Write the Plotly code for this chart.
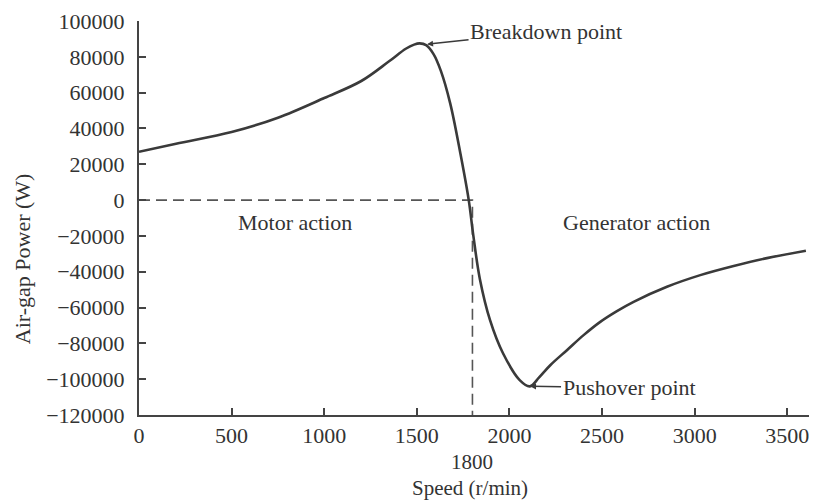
"""
Air-gap power versus speed of an induction machine (motor / generator regions).
"""

import plotly.graph_objects as go

# ─── Data ─────────────────────────────────────────────────────────────────────
speed = [0, 200, 500, 750, 1000, 1200, 1350, 1440, 1485, 1515, 1550, 1590,
         1630, 1680, 1735, 1780, 1805, 1840, 1895, 1965, 2055, 2110, 2160,
         2220, 2310, 2400, 2490, 2580, 2670, 2850, 3030, 3210, 3390, 3600]
power = [27000, 31500, 38000, 46000, 57000, 66500, 77500, 84500, 86800, 87500,
         86500, 81500, 72000, 54000, 26000, 0, -20000, -44000, -67000, -85500,
         -100500, -104000, -99000, -92200, -83800, -75400, -68000, -62000,
         -56800, -48400, -41900, -36800, -32400, -28300]

sync_x = [0, 1800, 1800]
sync_y = [0, 0, -120000]

x_ticks = [0, 500, 1000, 1500, 2000, 2500, 3000, 3500]
y_ticks = [100000, 80000, 60000, 40000, 20000, 0, -20000, -40000, -60000,
           -80000, -100000, -120000]

breakdown = (1555, 87000)
pushover = (2111, -104000)

# ─── Style ────────────────────────────────────────────────────────────────────
FONT = 'Liberation Serif'
INK = '#3a3a3a'
TEXT = '#333333'

fig = go.Figure()

fig.add_trace(go.Scatter(
    x=sync_x, y=sync_y,
    mode='lines',
    line=dict(color='#555555', width=1.6, dash='11px,6px'),
    hoverinfo='skip',
))

fig.add_trace(go.Scatter(
    x=speed, y=power,
    mode='lines',
    line=dict(color=INK, width=2.6, shape='spline', smoothing=1.0),
))

axis_common = dict(
    showgrid=False,
    zeroline=False,
    showline=True,
    linecolor='#444444',
    linewidth=2,
    ticks='inside',
    ticklen=7,
    tickwidth=1.6,
    tickcolor='#444444',
    tickfont=dict(family=FONT, size=22, color=TEXT),
    tickformat='d',
    automargin=False,
)

fig.update_xaxes(range=[0, 3660], tickvals=x_ticks, **axis_common)
fig.update_yaxes(range=[-120000, 100000], tickvals=y_ticks,
                 ticklabelstandoff=8, **axis_common)

annotations = [
    dict(x=breakdown[0], y=breakdown[1], text='Breakdown point',
         showarrow=True, ax=119, ay=-13, arrowhead=2, arrowsize=0.8,
         arrowwidth=1.5, arrowcolor=INK),
    dict(x=pushover[0], y=pushover[1], text='Pushover point',
         showarrow=True, ax=99, ay=1, arrowhead=2, arrowsize=0.8,
         arrowwidth=1.5, arrowcolor=INK),
    dict(x=842, y=-12300, text='Motor action', showarrow=False),
    dict(x=2683, y=-12300, text='Generator action', showarrow=False),
]
for a in annotations:
    a['font'] = dict(family=FONT, size=22, color=TEXT)

# texts under the x axis sit close together, so slightly smaller and unpadded
annotations += [
    dict(x=1800, y=-0.119, yref='paper', yanchor='middle', text='1800',
         showarrow=False, borderpad=0,
         font=dict(family=FONT, size=21, color=TEXT)),
    dict(x=0.488, y=-0.185, xref='paper', yref='paper', yanchor='middle',
         text='Speed (r/min)', showarrow=False, borderpad=0,
         font=dict(family=FONT, size=21, color=TEXT)),
    dict(x=-0.1726, y=0.398, xref='paper', yref='paper', xanchor='center',
         yanchor='middle', text='Air-gap Power (W)', textangle=-90,
         showarrow=False, font=dict(family=FONT, size=22, color=TEXT)),
]

# page body adds an 8px offset, margins compensate for it
fig.update_layout(
    width=817,
    height=500,
    margin=dict(l=131, r=8, t=13, b=93),
    plot_bgcolor='white',
    paper_bgcolor='white',
    showlegend=False,
    annotations=annotations,
)

fig.write_html("out.html")
